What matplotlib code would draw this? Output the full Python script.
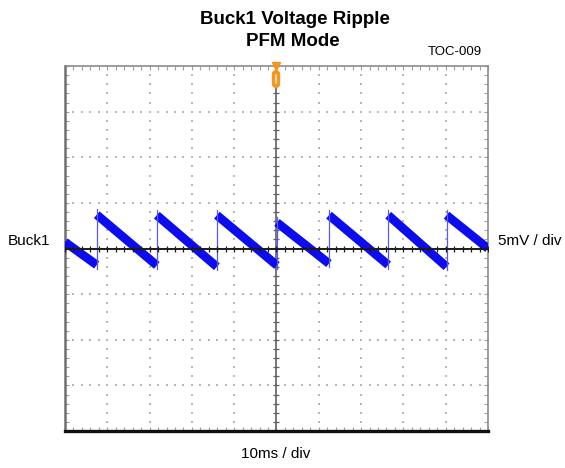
import numpy as np
import matplotlib
matplotlib.use("Agg")
import matplotlib.pyplot as plt

plt.rcParams['font.family'] = ['Liberation Sans', 'DejaVu Sans']

# ---- data (in scope divisions; 10 ms/div horizontally, 5 mV/div vertically)
jump_times = [-4.25, -2.83, -1.41, 0.01, 1.24, 2.64, 4.02]   # div
peak_levels = [0.74, 0.73, 0.73, 0.57, 0.73, 0.73, 0.73]     # div after jump
trough_levels = [-0.36, -0.37, -0.40, -0.37, -0.33, -0.36, -0.40]  # div before jump
start_time, start_level = -5.0, 0.14
end_time, end_level = 5.0, 0.0

title_lines = ["Buck1 Voltage Ripple", "PFM Mode"]
channel_label = "Buck1"
v_scale_label = "5mV / div"
t_scale_label = "10ms / div"
figure_id = "TOC-009"

fig = plt.figure(figsize=(5.65, 4.68), dpi=100)
ax = fig.add_axes([65/565, 1-431/468, 423/565, 365/468])
ax.set_xlim(-5, 5)
ax.set_ylim(-4, 4)

# grid dots
dot_c = '#b8b8b8'
sub = np.arange(-4, 4.001, 0.2)
subx = np.arange(-5, 5.001, 0.2)
for gx in range(-4, 5):
    if gx == 0:
        continue
    ax.scatter(np.full_like(sub, gx), sub, s=1.6, marker='s', c=dot_c, linewidths=0, zorder=1)
for gy in range(-3, 4):
    if gy == 0:
        continue
    ax.scatter(subx, np.full_like(subx, gy), s=1.6, marker='s', c=dot_c, linewidths=0, zorder=1)

# center crosshair
ax.axvline(0, color='#606060', lw=1.2, zorder=2)
ax.plot(np.zeros_like(sub), sub, ls='none', marker='_', ms=5, mew=0.9, color='#606060', zorder=2)

# waveform
blue = '#0c0cee'
seg_starts_t = [start_time] + jump_times
seg_starts_v = [start_level] + peak_levels
seg_ends_t = jump_times + [end_time]
seg_ends_v = trough_levels + [end_level]
for t0, v0, t1, v1 in zip(seg_starts_t, seg_starts_v, seg_ends_t, seg_ends_v):
    ax.plot([t0, t1], [v0, v1], color=blue, lw=6.3, solid_capstyle='butt', zorder=3)
for t, lo, hi in zip(jump_times, trough_levels, peak_levels):
    ax.plot([t, t], [lo - 0.08, hi + 0.12], color='#5a5ae8', lw=0.9, zorder=3)

ax.axhline(0, color='#1a1a1a', lw=1.4, zorder=4)
ax.plot(subx, np.zeros_like(subx), ls='none', marker='|', ms=5, mew=0.9, color='#1a1a1a', zorder=4)

# trigger marker
ax.plot([0], [4.0], marker='v', ms=5.5, color='#f7941d', clip_on=False, zorder=6)
ax.plot([0, 0], [3.60, 3.83], color='#f7941d', lw=6.0, solid_capstyle='round', clip_on=False, zorder=6)
ax.plot([0, 0], [3.62, 3.81], color='#fdd49a', lw=1.6, solid_capstyle='round', clip_on=False, zorder=7)

# frame
for side in ['left', 'top', 'right']:
    ax.spines[side].set_color('#8c8c8c')
ax.spines['left'].set_color('#707070')
ax.spines['left'].set_linewidth(1.8)
ax.spines['top'].set_linewidth(1.2)
ax.spines['right'].set_linewidth(1.2)
ax.spines['bottom'].set_color('#111111')
ax.spines['bottom'].set_linewidth(2.4)
ax.set_xticks(np.arange(-5, 6, 1))
ax.set_yticks(np.arange(-4, 5, 1))
ax.set_xticks(subx, minor=True)
ax.set_yticks(sub, minor=True)
ax.tick_params(which='both', direction='in', length=3, width=0.8, color='#a0a0a0',
               top=True, right=True, labelbottom=False, labelleft=False)

# texts
fig.text(295/565, 1-20/468, title_lines[0], ha='center', va='center', fontsize=13.5, fontweight='bold')
fig.text(293/565, 1-41/468, title_lines[1], ha='center', va='center', fontsize=13.5, fontweight='bold')
fig.text(455/565, 1-52/468, figure_id, ha='center', va='center', fontsize=9.5)
fig.text(29/565, 1-241/468, channel_label, ha='center', va='center', fontsize=11)
fig.text(530/565, 1-241/468, v_scale_label, ha='center', va='center', fontsize=11)
fig.text(276/565, 1-454/468, t_scale_label, ha='center', va='center', fontsize=11)

fig.savefig('out.png', dpi=100)
